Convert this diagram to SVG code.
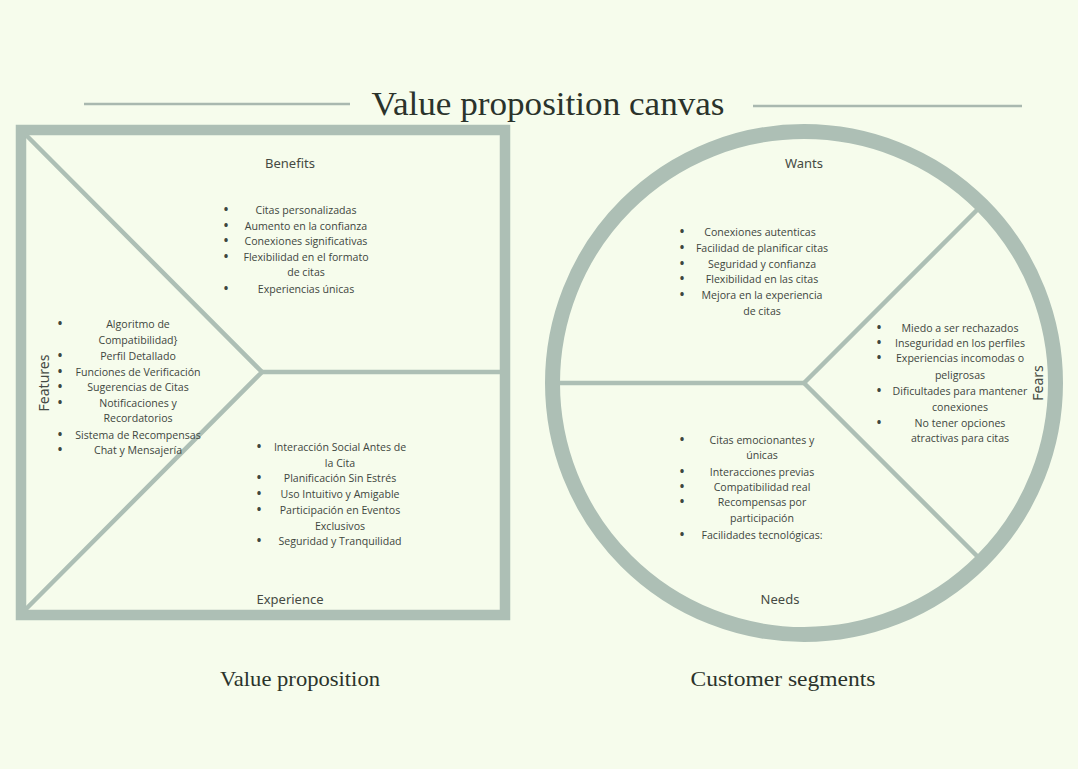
<svg xmlns="http://www.w3.org/2000/svg" width="1078" height="769" viewBox="0 0 1078 769">
  <style>
    .band { fill: none; stroke: #adbfb5; }
    .div { stroke: #adbfb5; stroke-width: 4.5; fill: none; stroke-linecap: butt; }
    .rule { stroke: #a9b8af; stroke-width: 2.5; }
    .title { font-family: "Liberation Serif", serif; fill: #2b332b; }
    .sect { font-family: "Noto Sans", "DejaVu Sans", sans-serif; font-size: 13px; fill: #454a43; text-anchor: middle; }
    .item { font-family: "Open Sans", "Noto Sans", sans-serif; font-size: 10.6px; fill: #3e463e; text-anchor: middle; }
    .dot { font-family: "Open Sans", "Noto Sans", sans-serif; font-size: 12px; font-weight: bold; fill: #3e463e; text-anchor: middle; }
  </style>

  <rect width="1078" height="769" fill="#f6fcec"/>

  <!-- heading with side rules -->
  <g id="heading">
    <line class="rule" x1="84" y1="104" x2="350" y2="104"/>
    <line class="rule" x1="753" y1="106" x2="1022" y2="106"/>
    <text class="title" x="548" y="115" font-size="34" text-anchor="middle" textLength="353" lengthAdjust="spacingAndGlyphs">Value proposition canvas</text>
  </g>

  <!-- frames and dividing lines -->
  <g id="connectors">
    <rect class="band" x="21" y="130" width="484" height="485" stroke-width="10.5"/>
    <polyline class="div" points="25,134 262,372 25,610"/>
    <line class="div" x1="262" y1="372" x2="501" y2="372"/>
    <circle class="band" cx="804" cy="383" r="251.5" stroke-width="15"/>
    <line class="div" x1="559" y1="383" x2="804" y2="383"/>
    <line class="div" x1="804" y1="383" x2="980" y2="207"/>
    <line class="div" x1="804" y1="383" x2="980" y2="559"/>
  </g>

  <!-- Value proposition square -->
  <g id="benefits">
    <text class="sect" x="290" y="168">Benefits</text>
    <text class="dot" x="226" y="214">•</text>
    <text class="item" x="306" y="214">Citas personalizadas</text>
    <text class="dot" x="226" y="229.6">•</text>
    <text class="item" x="306" y="229.6">Aumento en la confianza</text>
    <text class="dot" x="226" y="245.2">•</text>
    <text class="item" x="306" y="245.2">Conexiones significativas</text>
    <text class="dot" x="226" y="260.8">•</text>
    <text class="item" x="306" y="260.8">Flexibilidad en el formato</text>
    <text class="item" x="306" y="276.4">de citas</text>
    <text class="dot" x="226" y="293">•</text>
    <text class="item" x="306" y="293">Experiencias únicas</text>
  </g>

  <g id="features">
    <text class="sect" transform="translate(44,383) rotate(-90)" x="0" y="5" style="font-size:14px">Features</text>
    <text class="dot" x="60" y="328">•</text>
    <text class="item" x="138" y="328">Algoritmo de</text>
    <text class="item" x="138" y="344">Compatibilidad}</text>
    <text class="dot" x="60" y="360">•</text>
    <text class="item" x="138" y="360">Perfil Detallado</text>
    <text class="dot" x="60" y="376">•</text>
    <text class="item" x="138" y="376">Funciones de Verificación</text>
    <text class="dot" x="60" y="391">•</text>
    <text class="item" x="138" y="391">Sugerencias de Citas</text>
    <text class="dot" x="60" y="407">•</text>
    <text class="item" x="138" y="407">Notificaciones y</text>
    <text class="item" x="138" y="422">Recordatorios</text>
    <text class="dot" x="60" y="439">•</text>
    <text class="item" x="138" y="439">Sistema de Recompensas</text>
    <text class="dot" x="60" y="454">•</text>
    <text class="item" x="138" y="454">Chat y Mensajería</text>
  </g>

  <g id="experience">
    <text class="dot" x="259" y="451">•</text>
    <text class="item" x="340" y="451">Interacción Social Antes de</text>
    <text class="item" x="340" y="467">la Cita</text>
    <text class="dot" x="259" y="482">•</text>
    <text class="item" x="340" y="482">Planificación Sin Estrés</text>
    <text class="dot" x="259" y="498">•</text>
    <text class="item" x="340" y="498">Uso Intuitivo y Amigable</text>
    <text class="dot" x="259" y="514">•</text>
    <text class="item" x="340" y="514">Participación en Eventos</text>
    <text class="item" x="340" y="530">Exclusivos</text>
    <text class="dot" x="259" y="545">•</text>
    <text class="item" x="340" y="545">Seguridad y Tranquilidad</text>
    <text class="sect" x="290" y="604">Experience</text>
  </g>

  <!-- Customer segments circle -->
  <g id="wants">
    <text class="sect" x="804" y="168">Wants</text>
    <text class="dot" x="682" y="236">•</text>
    <text class="item" x="760" y="236">Conexiones autenticas</text>
    <text class="dot" x="682" y="252">•</text>
    <text class="item" x="762" y="252">Facilidad de planificar citas</text>
    <text class="dot" x="682" y="268">•</text>
    <text class="item" x="762" y="268">Seguridad y confianza</text>
    <text class="dot" x="682" y="283">•</text>
    <text class="item" x="762" y="283">Flexibilidad en las citas</text>
    <text class="dot" x="682" y="299">•</text>
    <text class="item" x="762" y="299">Mejora en la experiencia</text>
    <text class="item" x="762" y="315">de citas</text>
  </g>

  <g id="fears">
    <text class="dot" x="879" y="332">•</text>
    <text class="item" x="960" y="332">Miedo a ser rechazados</text>
    <text class="dot" x="879" y="347">•</text>
    <text class="item" x="960" y="347">Inseguridad en los perfiles</text>
    <text class="dot" x="879" y="362">•</text>
    <text class="item" x="960" y="362">Experiencias incomodas o</text>
    <text class="item" x="960" y="379">peligrosas</text>
    <text class="dot" x="879" y="395">•</text>
    <text class="item" x="960" y="395">Dificultades para mantener</text>
    <text class="item" x="960" y="411">conexiones</text>
    <text class="dot" x="879" y="427">•</text>
    <text class="item" x="960" y="427">No tener opciones</text>
    <text class="item" x="960" y="442">atractivas para citas</text>
    <text class="sect" transform="translate(1038,383) rotate(-90)" x="0" y="5" style="font-size:14px">Fears</text>
  </g>

  <g id="needs">
    <text class="dot" x="682" y="444">•</text>
    <text class="item" x="762" y="444">Citas emocionantes y</text>
    <text class="item" x="762" y="459">únicas</text>
    <text class="dot" x="682" y="476">•</text>
    <text class="item" x="762" y="476">Interacciones previas</text>
    <text class="dot" x="682" y="491">•</text>
    <text class="item" x="762" y="491">Compatibilidad real</text>
    <text class="dot" x="682" y="506">•</text>
    <text class="item" x="762" y="506">Recompensas por</text>
    <text class="item" x="762" y="522">participación</text>
    <text class="dot" x="682" y="539">•</text>
    <text class="item" x="762" y="539">Facilidades tecnológicas:</text>
    <text class="sect" x="780" y="604">Needs</text>
  </g>

  <!-- captions -->
  <g id="captions">
    <text class="title" x="300" y="686" font-size="22" text-anchor="middle" textLength="160" lengthAdjust="spacingAndGlyphs">Value proposition</text>
    <text class="title" x="783" y="686" font-size="22" text-anchor="middle" textLength="185" lengthAdjust="spacingAndGlyphs">Customer segments</text>
  </g>
</svg>
